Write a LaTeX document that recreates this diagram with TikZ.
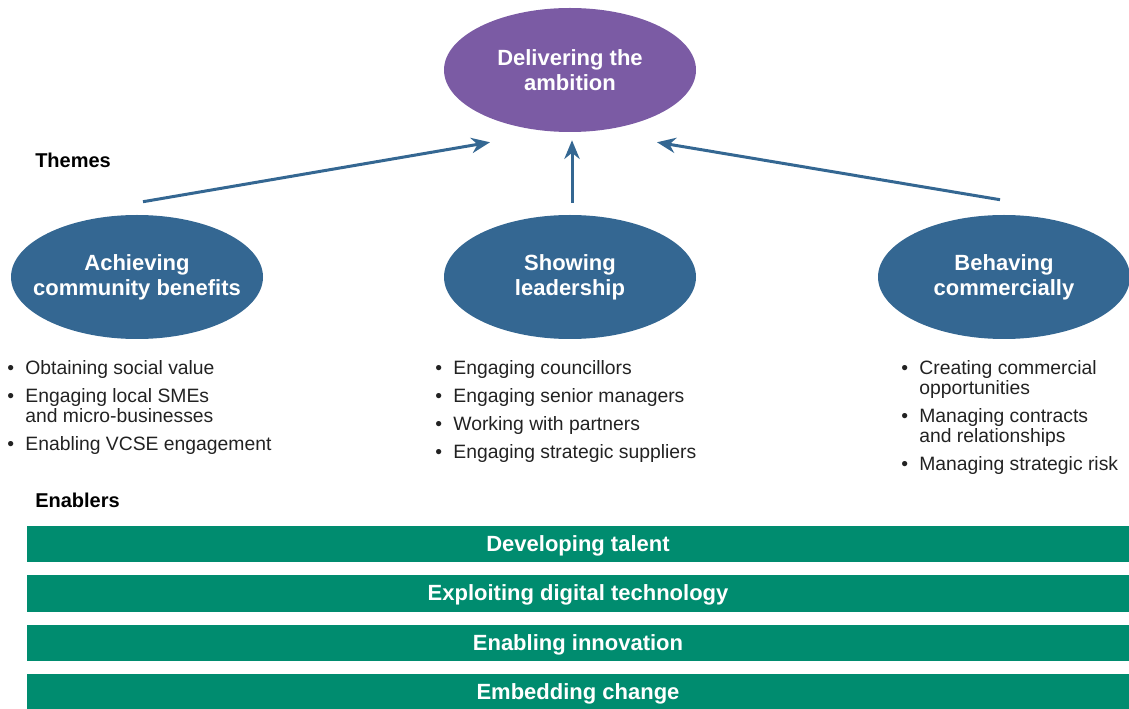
\documentclass[tikz,border=0pt]{standalone}
\usepackage{fontspec}
\setmainfont{Liberation Sans}
\usetikzlibrary{shapes.geometric,arrows.meta,positioning}
\definecolor{ambpurple}{RGB}{123,91,164}
\definecolor{themeblue}{RGB}{52,103,146}
\definecolor{enablegreen}{RGB}{0,140,111}
\definecolor{bodytext}{RGB}{34,34,34}
\tikzset{
  goal/.style={ellipse, fill=ambpurple, minimum width=189pt, minimum height=93pt,
    inner ysep=0pt, inner xsep=-15pt, text=white, align=center,
    font=\bfseries\fontsize{16.5}{18.75}\selectfont},
  theme/.style={goal, fill=themeblue},
  enabler/.style={rectangle, fill=enablegreen, minimum width=826.5pt,
    minimum height=27.5pt, inner sep=0pt, text height=12pt, text depth=1pt,
    text=white, font=\bfseries\fontsize{16.5}{18.75}\selectfont},
  heading/.style={anchor=west, inner sep=0pt, font=\bfseries\fontsize{15}{18}\selectfont},
  bullets/.style={anchor=north west, inner sep=0pt, text=bodytext,
    font=\fontsize{14.5}{15}\selectfont},
  upline/.style={themeblue, line width=2.25pt, -{Stealth[length=14pt,width=11.5pt]}}
}
\begin{document}
\begin{tikzpicture}[x=0.75pt, y=-0.75pt, node distance=9.25pt]
  \useasboundingbox (0,0) rectangle (1129,709);
  % Ambizione
  \node[goal] (deliver) at (570,70) {Delivering the\\ambition};
  % Temi
  \node[heading] (themes) at (35,160) {Themes};
  \node[theme] (achieve) at (137,277) {Achieving\\community benefits};
  \node[theme] (lead) at (570,277) {Showing\\leadership};
  \node[theme] (behave) at (1004,277) {Behaving\\commercially};
  \draw[upline] ([shift={(6,-13)}]achieve.north) -- ([shift={(-80,10)}]deliver.south);
  \draw[upline] ([shift={(2,-12)}]lead.north) -- ([shift={(2,8)}]deliver.south);
  \draw[upline] ([shift={(-4,-15)}]behave.north) -- ([shift={(87,10)}]deliver.south);
  % Elenchi
  \node[bullets] (achievelist) at (7,360) {\begin{tabular}{@{}l@{\hspace{8.5pt}}l@{}}
    \textbullet & Obtaining social value\\[6pt]
    \textbullet & Engaging local SMEs\\
                & and micro-businesses\\[6pt]
    \textbullet & Enabling VCSE engagement
  \end{tabular}};
  \node[bullets] (leadlist) at (435,360) {\begin{tabular}{@{}l@{\hspace{8.5pt}}l@{}}
    \textbullet & Engaging councillors\\[6pt]
    \textbullet & Engaging senior managers\\[6pt]
    \textbullet & Working with partners\\[6pt]
    \textbullet & Engaging strategic suppliers
  \end{tabular}};
  \node[bullets] (behavelist) at (901,360) {\begin{tabular}{@{}l@{\hspace{8.5pt}}l@{}}
    \textbullet & Creating commercial\\
                & opportunities\\[6pt]
    \textbullet & Managing contracts\\
                & and relationships\\[6pt]
    \textbullet & Managing strategic risk
  \end{tabular}};
  % Fattori abilitanti
  \node[heading] (enablers) at (35,500) {Enablers};
  \node[enabler] (talent) at (578,544) {Developing talent};
  \node[enabler, below=of talent] (digital) {Exploiting digital technology};
  \node[enabler, below=of digital] (innovation) {Enabling innovation};
  \node[enabler, below=of innovation] (change) {Embedding change};
\end{tikzpicture}
\end{document}
